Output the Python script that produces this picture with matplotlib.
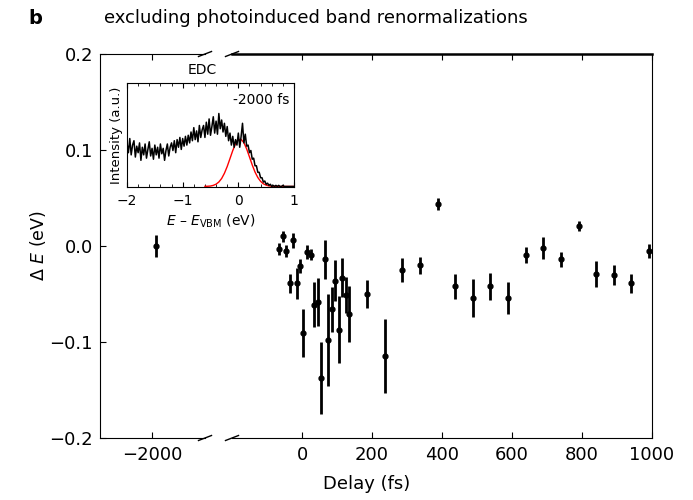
import numpy as np
import matplotlib
matplotlib.use('Agg')
import matplotlib.pyplot as plt
from matplotlib.ticker import MultipleLocator

plt.rcParams['font.family'] = ['DejaVu Sans']
plt.rcParams['mathtext.fontset'] = 'dejavusans'

# band shift vs. pump-probe delay
delay = [-1990, -66, -55, -46, -35, -26, -15, -5, 4, 14, 25, 34, 46, 55, 65,
         75, 85, 95, 105, 115, 126, 135, 186, 237, 287, 337, 388, 438, 488,
         538, 589, 639, 689, 739, 790, 840, 890, 941, 991]
shift = [0.000, -0.003, 0.010, -0.005, -0.039, 0.006, -0.039, -0.021, -0.091,
         -0.006, -0.009, -0.061, -0.058, -0.138, -0.014, -0.098, -0.066,
         -0.036, -0.087, -0.033, -0.051, -0.071, -0.050, -0.115, -0.025,
         -0.020, 0.044, -0.042, -0.054, -0.042, -0.054, -0.009, -0.002,
         -0.014, 0.021, -0.029, -0.030, -0.039, -0.005]
shift_err = [0.011, 0.006, 0.006, 0.006, 0.010, 0.008, 0.016, 0.007, 0.025,
             0.0075, 0.006, 0.023, 0.025, 0.0375, 0.020, 0.048, 0.0235,
             0.021, 0.035, 0.020, 0.019, 0.0295, 0.015, 0.0385, 0.012,
             0.009, 0.006, 0.013, 0.020, 0.014, 0.0165, 0.0083, 0.0116,
             0.0075, 0.0054, 0.0137, 0.0104, 0.0095, 0.0075]

# inset: energy distribution curve at -2000 fs
edc_energy = np.round(np.arange(-2.0, 1.0001, 0.025), 3)
edc_intensity = [
    0.40, 0.31, 0.44, 0.29, 0.38, 0.42, 0.27, 0.37, 0.31, 0.40, 0.24, 0.36,
    0.29, 0.39, 0.26, 0.34, 0.41, 0.28, 0.35, 0.25, 0.38, 0.29, 0.36, 0.26,
    0.39, 0.30, 0.35, 0.24, 0.33, 0.39, 0.28, 0.36, 0.40,
    0.33, 0.42, 0.31, 0.43, 0.36, 0.45, 0.34, 0.44, 0.37, 0.46, 0.38, 0.47,
    0.40, 0.50, 0.42, 0.54, 0.43, 0.51, 0.41, 0.56, 0.45, 0.52,
    0.56, 0.45, 0.59, 0.48, 0.62, 0.47, 0.55, 0.64, 0.49, 0.60, 0.48, 0.67,
    0.53, 0.61, 0.50, 0.58,
    0.46, 0.55, 0.42, 0.49, 0.38, 0.46, 0.36, 0.43,
    0.38, 0.49, 0.36, 0.46, 0.58, 0.40, 0.48, 0.37,
    0.38, 0.31, 0.33, 0.25, 0.26, 0.19, 0.19, 0.13, 0.13, 0.08, 0.08, 0.04,
    0.05, 0.02, 0.03, 0.01, 0.02, 0.00,
    0.01, 0.00, 0.01, 0.00, 0.01, 0.00, 0.00, 0.01, 0.00, 0.00, 0.00, 0.00,
    0.00, 0.00, 0.00, 0.00,
]
fit_energy = [-0.60, -0.55, -0.50, -0.45, -0.40, -0.35, -0.30, -0.25, -0.20,
              -0.15, -0.10, -0.05, 0.00, 0.05, 0.10, 0.15, 0.20, 0.25, 0.30,
              0.35, 0.40, 0.45, 0.50, 0.55, 0.60, 0.65, 0.70, 1.00]
fit_intensity = [0.001, 0.002, 0.004, 0.010, 0.021, 0.041, 0.073, 0.121,
                 0.183, 0.256, 0.330, 0.392, 0.429, 0.432, 0.402, 0.344,
                 0.271, 0.197, 0.132, 0.082, 0.047, 0.024, 0.012, 0.005,
                 0.002, 0.001, 0.000, 0.000]

W, H = 693, 500
fig = plt.figure(figsize=(W / 100, H / 100), dpi=100)
bottom, height = 1 - 438 / H, (438 - 54) / H
ax_l = fig.add_axes([100 / W, bottom, 105 / W, height])
ax_r = fig.add_axes([232 / W, bottom, 420 / W, height])

for ax in (ax_l, ax_r):
    ax.errorbar(delay, shift, yerr=shift_err, fmt='o', color='k', ms=3.5,
                elinewidth=2, capsize=0)
    ax.set_ylim(-0.2, 0.2)
    ax.tick_params(direction='in', top=True, labelsize=13, length=4)
    ax.tick_params(axis='x', pad=6)
    ax.tick_params(axis='y', pad=5)

ax_l.set_xlim(-2150, -1850)
ax_l.set_xticks([-2000])
ax_l.set_yticks([-0.2, -0.1, 0.0, 0.1, 0.2])
ax_l.spines['right'].set_visible(False)

ax_r.set_xlim(-200, 1000)
ax_r.set_xticks([0, 200, 400, 600, 800, 1000])
ax_r.spines['left'].set_visible(False)
ax_r.spines['top'].set_linewidth(1.8)
ax_r.tick_params(axis='y', left=False, labelleft=False)

# break marks
dx, dy = 6.5, 2.5
for ax, xpix in ((ax_l, 1.0), (ax_r, 0.0)):
    wpx = ax.get_position().width * W
    hpx = ax.get_position().height * H
    for ypos in (0.0, 1.0):
        ax.plot([xpix - dx / wpx, xpix + dx / wpx], [ypos - dy / hpx, ypos + dy / hpx],
                transform=ax.transAxes, color='k', lw=1, clip_on=False)

fig.text(38 / W, 1 - 246 / H, r'$\mathit{\Delta}\ E$ (eV)', rotation=90,
         ha='center', va='center', fontsize=12.5)
fig.text(367 / W, 1 - 484 / H, 'Delay (fs)', ha='center', va='center', fontsize=13)
fig.text(28 / W, 1 - 18 / H, 'b', fontweight='bold', fontsize=14, va='center')
fig.text(104 / W, 1 - 18 / H, 'excluding photoinduced band renormalizations',
         fontsize=13, va='center')

# inset
ax_in = fig.add_axes([127 / W, 1 - 187 / H, 167 / W, 104 / H])
ax_in.plot(fit_energy, fit_intensity, color='red', lw=1)
ax_in.plot(edc_energy, edc_intensity, color='k', lw=1.1)
ax_in.set_xlim(-2, 1)
ax_in.set_ylim(-0.005, 0.95)
ax_in.set_xticks([-2, -1, 0, 1])
ax_in.xaxis.set_minor_locator(MultipleLocator(0.2))
ax_in.set_yticks([])
ax_in.tick_params(axis='x', which='both', direction='in', top=True,
                  labelsize=10, pad=5)
ax_in.tick_params(axis='x', which='minor', length=2)
ax_in.set_xlabel(r'$E$ – $E_{\mathrm{VBM}}$ (eV)', fontsize=10, labelpad=3)
ax_in.set_ylabel('Intensity (a.u.)', fontsize=9.5, labelpad=3)
ax_in.text(0.97, 0.84, '-2000 fs', transform=ax_in.transAxes, ha='right',
           va='center', fontsize=10)
fig.text(202 / W, 1 - 70 / H, 'EDC', ha='center', va='center', fontsize=10)

fig.savefig('out.png', dpi=100)
